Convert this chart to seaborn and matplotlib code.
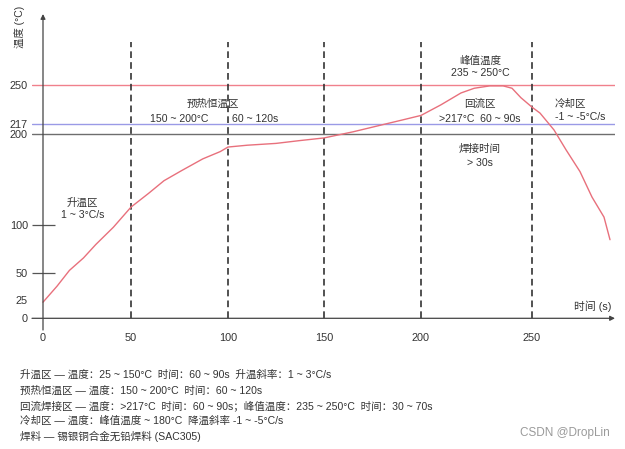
import numpy as np
import matplotlib
matplotlib.use("Agg")
import matplotlib.pyplot as plt
import seaborn as sns

# ---- data ----
time_s = [0, 8, 15, 23, 30, 40, 50, 59, 67, 76, 87, 96, 100, 110, 125, 137, 150,
          165, 181, 190, 200, 209, 218, 224, 231, 237, 241, 245, 250, 254, 261,
          267, 274, 280, 286, 289]
temp_c = [22, 38, 53, 66, 80, 98, 120, 135, 149, 160, 173, 181, 186, 188, 190, 193, 196,
          204, 216, 220, 224, 233, 243, 247, 249, 249, 247, 239, 231, 226, 207,
          183, 159, 131, 109, 85]
x_ticks = [0, 50, 100, 150, 200, 250]
y_ticks = [0, 25, 50, 100, 200, 217, 250]
zone_bounds = [50, 100, 150, 200, 250]
peak_line, liquidus_line, ref_line = 250, 217, 200
notes = [
    "升温区 — 温度：25 ~ 150°C  时间：60 ~ 90s  升温斜率：1 ~ 3°C/s",
    "预热恒温区 — 温度：150 ~ 200°C  时间：60 ~ 120s",
    "回流焊接区 — 温度：>217°C  时间：60 ~ 90s；峰值温度：235 ~ 250°C  时间：30 ~ 70s",
    "冷却区 — 温度：峰值温度 ~ 180°C  降温斜率 -1 ~ -5°C/s",
    "焊料 — 锡银铜合金无铅焊料 (SAC305)",
]

sns.set_style("white")
FAM = ["Liberation Sans", "Noto Sans CJK SC", "DejaVu Sans"]
plt.rcParams["font.family"] = FAM
TXT = "#333333"

W, H = 625, 449
fig = plt.figure(figsize=(6.25, 4.49), dpi=100, facecolor="white")

def fx(px):
    return px / W

def fy(py):
    return 1 - py / H

ax = fig.add_axes([fx(32), fy(330), (615 - 32) / W, (330 - 14) / H])

# piecewise scales reproducing the hand-drawn axis spacing
xs_k = [-20, 0, 50, 100, 150, 200, 250, 330]
xp_k = [-40, 0, 88, 185, 281, 378, 489, 489 + 160]
ys_k = [-50, 0, 25, 50, 100, 200, 217, 250, 400]
yp_k = [-50, 0, 18.3, 45, 93, 184, 194.6, 233.6, 383.6]

def xf(v): return np.interp(v, xs_k, xp_k)
def xi(v): return np.interp(v, xp_k, xs_k)
def yf(v): return np.interp(v, ys_k, yp_k)
def yi(v): return np.interp(v, yp_k, ys_k)

ax.set_xscale("function", functions=(xf, xi))
ax.set_yscale("function", functions=(yf, yi))
xmin, xmax = xi(-11), xi(572)
ymin, ymax = yi(-11.7), yi(304.3)
ax.set_xlim(xmin, xmax)
ax.set_ylim(ymin, ymax)

for s in ax.spines.values():
    s.set_visible(False)

# reference lines
ax.axhline(peak_line, color="#f0808c", lw=1.0, zorder=1)
ax.axhline(liquidus_line, color="#9a9ae6", lw=1.0, zorder=1)
ax.axhline(ref_line, color="#6e6e6e", lw=1.0, zorder=1)
ax.hlines([50, 100], xmin, xi(12), color="#555555", lw=0.9, zorder=1)
ax.vlines(zone_bounds, 0, yi(276.3), colors="#333333", lw=1.2,
          linestyles=(0, (4, 2.5)), zorder=2)

# profile curve
sns.lineplot(x=time_s, y=temp_c, ax=ax, color="#e8707c", lw=1.0, zorder=3)
ax.set_xlabel("")
ax.set_ylabel("")

# axes with arrows
ax.annotate("", xy=(xmax, 0), xytext=(xmin, 0), annotation_clip=False,
            arrowprops=dict(arrowstyle="-|>", color="#444444", lw=0.9,
                            shrinkA=0, shrinkB=0, mutation_scale=7))
ax.annotate("", xy=(0, ymax), xytext=(0, ymin), annotation_clip=False,
            arrowprops=dict(arrowstyle="-|>", color="#444444", lw=0.9,
                            shrinkA=0, shrinkB=0, mutation_scale=7))

ax.set_xticks(x_ticks)
ax.set_yticks(y_ticks)
ax.set_xticklabels([str(v) for v in x_ticks])
ax.set_yticklabels([str(v) for v in y_ticks])
ax.tick_params(axis="both", length=0, labelsize=7.8, colors=TXT)
ax.tick_params(axis="y", pad=3)
ax.tick_params(axis="x", pad=2)
ax.grid(False)

# axis titles
fig.text(fx(20), fy(26.5), "温度 (°C)", rotation=90, ha="center", va="center",
         fontsize=7.5, color=TXT)
fig.text(fx(592.5), fy(306), "时间 (s)", ha="center", va="center",
         fontsize=7.8, color=TXT)

# zone annotations
ann = [
    (213, 104, "预热恒温区"),
    (179, 118.5, "150 ~ 200°C"),
    (255, 118.5, "60 ~ 120s"),
    (480, 60.5, "峰值温度"),
    (480, 73.5, "235 ~ 250°C"),
    (480, 103.5, "回流区"),
    (480, 118.5, ">217°C  60 ~ 90s"),
    (480, 148.5, "焊接时间"),
    (480, 162.5, "> 30s"),
    (570, 104, "冷却区"),
    (580, 117, "-1 ~ -5°C/s"),
    (82.7, 202.7, "升温区"),
    (82.7, 215, "1 ~ 3°C/s"),
]
for px, py, t in ann:
    fig.text(fx(px), fy(py), t, ha="center", va="center", fontsize=7.6, color=TXT)

# notes
for py, t in zip([375, 390.3, 405.6, 421, 436.5], notes):
    fig.text(fx(20.5), fy(py), t, ha="left", va="center", fontsize=7.6, color=TXT)

fig.text(fx(610), fy(433.3), "CSDN @DropLin", ha="right", va="center",
         fontsize=8.5, color="#9a9a9a")

fig.savefig("out.png", dpi=100, facecolor="white")
